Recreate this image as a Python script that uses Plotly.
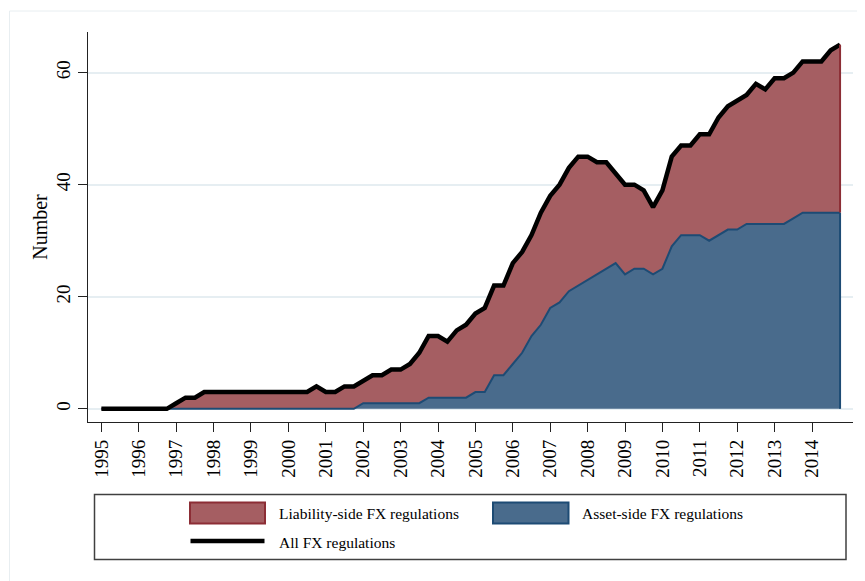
import plotly.graph_objects as go

# Quarterly observations, 1995Q1 .. 2014Q4
start_year = 1995
n_quarters = 80

asset = [0, 0, 0, 0, 0, 0, 0, 0,        # 1995-1996
         0, 0, 0, 0, 0, 0, 0, 0,        # 1997-1998
         0, 0, 0, 0, 0, 0, 0, 0,        # 1999-2000
         0, 0, 0, 0, 1, 1, 1, 1,        # 2001-2002
         1, 1, 1, 2, 2, 2, 2, 2,        # 2003-2004
         3, 3, 6, 6, 8, 10, 13, 15,     # 2005-2006
         18, 19, 21, 22, 23, 24, 25, 26,  # 2007-2008
         24, 25, 25, 24, 25, 29, 31, 31,  # 2009-2010
         31, 30, 31, 32, 32, 33, 33, 33,  # 2011-2012
         33, 33, 34, 35, 35, 35, 35, 35]  # 2013-2014

liability = [0, 0, 0, 0, 0, 0, 0, 0,
             1, 2, 2, 3, 3, 3, 3, 3,
             3, 3, 3, 3, 3, 3, 3, 4,
             3, 3, 4, 4, 4, 5, 5, 6,
             6, 7, 9, 11, 11, 10, 12, 13,
             14, 15, 16, 16, 18, 18, 18, 20,
             20, 21, 22, 23, 22, 20, 19, 16,
             16, 15, 14, 12, 14, 16, 16, 16,
             18, 19, 21, 22, 23, 23, 25, 24,
             26, 26, 26, 27, 27, 27, 29, 30]

total = [a + l for a, l in zip(asset, liability)]
x_vals = [start_year + q / 4 for q in range(n_quarters)]

year_ticks = list(range(1995, 2015))
year_labels = [str(y) for y in year_ticks]
y_ticks = [0, 20, 40, 60]

label_liab = "Liability-side FX regulations"
label_asset = "Asset-side FX regulations"
label_all = "All FX regulations"

RED_FILL = "#a55e62"
RED_LINE = "#8c2d35"
BLUE_FILL = "#496b8c"
BLUE_LINE = "#1d4b74"
FONT = "Liberation Serif"

# the page body has an 8px default margin; size the figure to fill the rest
OFF = 8
PAGE_W, PAGE_H = 865, 581
W, H = PAGE_W - OFF, PAGE_H - OFF
# plot area in page pixels
PL, PR, PT, PB = 88, 853, 32, 422
L, R, T, B = PL - OFF, PAGE_W - PR, PT - OFF, PAGE_H - PB
PW, PH = PR - PL, PB - PT


def px(xp):
    return (xp - PL) / PW


def py(yp):
    return (PB - yp) / PH


fig = go.Figure()
fig.add_trace(go.Scatter(x=x_vals, y=asset, stackgroup="one", mode="lines",
                         line=dict(color=BLUE_LINE, width=2),
                         fillcolor=BLUE_FILL, name=label_asset,
                         showlegend=False))
fig.add_trace(go.Scatter(x=x_vals, y=liability, stackgroup="one", mode="lines",
                         line=dict(color=RED_LINE, width=1),
                         fillcolor=RED_FILL, name=label_liab,
                         showlegend=False))
fig.add_trace(go.Scatter(x=x_vals, y=total, mode="lines",
                         line=dict(color="black", width=4.5),
                         name=label_all, showlegend=False))

shapes = []
# area outlines at the right-hand edge (from the last observation)
shapes.append(dict(type="line", xref="x", yref="y",
                   x0=x_vals[-1], x1=x_vals[-1], y0=asset[-1], y1=total[-1],
                   line=dict(color=RED_LINE, width=2)))
shapes.append(dict(type="line", xref="x", yref="y",
                   x0=x_vals[-1], x1=x_vals[-1], y0=0, y1=asset[-1],
                   line=dict(color=BLUE_LINE, width=2)))
# outer frame (faint)
shapes.append(dict(type="rect", xref="paper", yref="paper",
                   x0=px(9.5), x1=px(920), y0=py(11), y1=py(640),
                   line=dict(color="#e8eef1", width=1), layer="below"))
# legend box
shapes.append(dict(type="rect", xref="paper", yref="paper",
                   x0=px(94.5), x1=px(846), y0=py(494.5), y1=py(559.5),
                   line=dict(color="#404040", width=1.5)))
shapes.append(dict(type="rect", xref="paper", yref="paper",
                   x0=px(190), x1=px(265), y0=py(502.5), y1=py(523.5),
                   fillcolor=RED_FILL, line=dict(color=RED_LINE, width=2)))
shapes.append(dict(type="rect", xref="paper", yref="paper",
                   x0=px(493), x1=px(568.5), y0=py(502.5), y1=py(523.5),
                   fillcolor=BLUE_FILL, line=dict(color=BLUE_LINE, width=2)))
shapes.append(dict(type="line", xref="paper", yref="paper",
                   x0=px(190.5), x1=px(264.5), y0=py(541), y1=py(541),
                   line=dict(color="black", width=4.5)))

annotations = [
    dict(text=label_liab, x=px(277), y=py(513), xref="paper", yref="paper",
         xanchor="left", yanchor="middle", showarrow=False,
         font=dict(family=FONT, size=15.5, color="black")),
    dict(text=label_asset, x=px(580), y=py(513), xref="paper", yref="paper",
         xanchor="left", yanchor="middle", showarrow=False,
         font=dict(family=FONT, size=15.5, color="black")),
    dict(text=label_all, x=px(277), y=py(542), xref="paper", yref="paper",
         xanchor="left", yanchor="middle", showarrow=False,
         font=dict(family=FONT, size=15.5, color="black")),
]

fig.update_layout(
    width=W, height=H,
    margin=dict(l=L, r=R, t=T, b=B, autoexpand=False),
    paper_bgcolor="white", plot_bgcolor="white",
    font=dict(family=FONT, color="black"),
    showlegend=False,
    shapes=shapes,
    annotations=annotations,
    xaxis=dict(range=[1994.642, 2015.096], tickmode="array",
               tickvals=year_ticks, ticktext=year_labels, tickangle=-90,
               ticks="outside", ticklen=9, tickwidth=1.3, tickcolor="#222",
               showline=True, linecolor="#222", linewidth=1.3,
               showgrid=False, zeroline=False,
               tickfont=dict(family=FONT, size=19, color="black")),
    yaxis=dict(range=[-2.35, 67.25], tickmode="array", tickvals=y_ticks,
               ticktext=[str(v) for v in y_ticks], tickangle=-90,
               ticks="outside", ticklen=9, tickwidth=1.3, tickcolor="#222",
               showline=True, linecolor="#222", linewidth=1.3,
               showgrid=True, gridcolor="#e6eef2", gridwidth=1.5,
               zeroline=False,
               tickfont=dict(family=FONT, size=19, color="black"),
               title=dict(text="Number", standoff=0,
                          font=dict(family=FONT, size=20, color="black"))),
)

fig.write_html("out.html")
